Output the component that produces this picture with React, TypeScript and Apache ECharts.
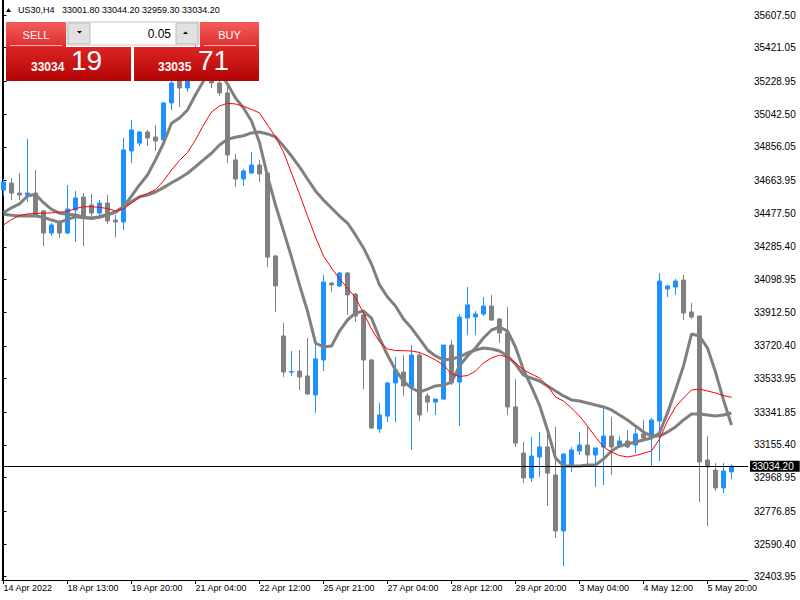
import React, { useEffect, useRef } from "react";
import * as echarts from "echarts";

// ---- data (US30, H4) ----
const OPEN = [34609, 34649, 34592, 34581, 34592, 34490, 34364, 34421, 34364, 34495, 34569, 34524, 34478, 34535, 34438, 34427, 34832, 34877, 34940, 34912, 34895, 35106, 35260, 35191, 35294, 35379, 35351, 35220, 35163, 34781, 34672, 34706, 34752, 34706, 34233, 33777, 33571, 33577, 33549, 33440, 33640, 34079, 34062, 34136, 34016, 33897, 33640, 33246, 33320, 33509, 33571, 33486, 33668, 33435, 33400, 33417, 33725, 33514, 33879, 33885, 33902, 33948, 33874, 33794, 33372, 33109, 32967, 33087, 33144, 32984, 32665, 33041, 33121, 33155, 33098, 33144, 33206, 33144, 33178, 33155, 33218, 33201, 33292, 34045, 34056, 34096, 33914, 33891, 33070, 33012, 32910, 33001.8];
const CLOSE = [34655, 34592, 34581, 34592, 34467, 34364, 34410, 34364, 34501, 34564, 34450, 34478, 34535, 34433, 34427, 34838, 34952, 34940, 34906, 34889, 35106, 35220, 35191, 35294, 35379, 35339, 35220, 35163, 34809, 34672, 34718, 34752, 34701, 34227, 34062, 33571, 33574, 33543, 33446, 33646, 34085, 34068, 34136, 34011, 33891, 33640, 33252, 33326, 33509, 33583, 33492, 33668, 33326, 33400, 33417, 33725, 33509, 33885, 33954, 33902, 33948, 33868, 33794, 33372, 33166, 32967, 33092, 33144, 32995, 32665, 33104, 33127, 33155, 33098, 33138, 33206, 33144, 33178, 33144, 33218, 33195, 33298, 34090, 34062, 34090, 33908, 33885, 33058, 33030, 32910, 33007, 33034.2];
const LOW = [34575, 34552, 34552, 34541, 34455, 34290, 34347, 34336, 34358, 34313, 34290, 34444, 34455, 34416, 34341, 34381, 34763, 34860, 34860, 34832, 34877, 35066, 35083, 35168, 35265, 35305, 35191, 35146, 34763, 34627, 34632, 34701, 34655, 34170, 33914, 33543, 33549, 33469, 33440, 33338, 33577, 34028, 34056, 33897, 33857, 33474, 33246, 33224, 33286, 33286, 33435, 33127, 33292, 33343, 33326, 33412, 33497, 33263, 33782, 33782, 33891, 33862, 33737, 33326, 33144, 32938, 32944, 32973, 32807, 32625, 32465, 33001, 33098, 33041, 32916, 32927, 32984, 33138, 33138, 33109, 33184, 33030, 33064, 33999, 34011, 33868, 33874, 32830, 32693, 32893, 32881, 32959.3];
const HIGH = [34672, 34678, 34706, 34900, 34723, 34495, 34421, 34438, 34638, 34604, 34592, 34587, 34552, 34581, 34467, 34906, 35009, 34946, 34952, 34980, 35111, 35265, 35294, 35339, 35436, 35465, 35379, 35260, 35220, 34815, 34729, 34826, 34781, 34712, 34239, 33851, 33691, 33697, 33765, 33754, 34125, 34085, 34142, 34142, 34022, 33908, 33646, 33395, 33514, 33657, 33668, 33725, 33685, 33452, 33417, 33725, 33754, 33902, 34056, 33919, 33999, 34011, 33879, 33942, 33531, 33172, 33201, 33229, 33229, 33258, 33104, 33144, 33229, 33258, 33138, 33366, 33315, 33206, 33241, 33252, 33298, 33309, 34136, 34068, 34102, 34125, 33965, 33891, 33206, 33052, 33052, 33044.2];

const MA_FAST = [34480, 34508, 34530, 34575, 34585, 34537, 34499, 34477, 34471, 34467, 34454, 34448, 34457, 34471, 34482, 34514, 34575, 34638, 34695, 34781, 34876, 34990, 35020, 35066, 35153, 35231, 35300, 35280, 35214, 35134, 35077, 35003, 34880, 34689, 34524, 34376, 34227, 34068, 33919, 33737, 33714, 33720, 33805, 33868, 33908, 33919, 33879, 33765, 33668, 33583, 33520, 33480, 33457, 33474, 33492, 33497, 33514, 33606, 33663, 33708, 33765, 33811, 33828, 33805, 33714, 33583, 33486, 33383, 33241, 33081, 33035, 33035, 33035, 33041, 33041, 33075, 33121, 33149, 33161, 33172, 33184, 33195, 33224, 33338, 33469, 33606, 33788, 33777, 33708, 33571, 33412, 33269];
const MA_SLOW = [34471, 34465, 34461, 34463, 34461, 34454, 34438, 34425, 34442, 34457, 34451, 34448, 34454, 34467, 34484, 34514, 34543, 34571, 34581, 34598, 34623, 34651, 34676, 34705, 34742, 34781, 34819, 34866, 34899, 34910, 34919, 34935, 34940, 34929, 34912, 34860, 34803, 34741, 34672, 34604, 34552, 34507, 34461, 34421, 34353, 34279, 34187, 34068, 33999, 33948, 33874, 33822, 33760, 33697, 33663, 33640, 33646, 33657, 33680, 33697, 33708, 33703, 33691, 33663, 33617, 33554, 33537, 33520, 33492, 33463, 33435, 33412, 33406, 33395, 33383, 33372, 33355, 33326, 33298, 33263, 33229, 33206, 33206, 33229, 33258, 33298, 33332, 33332, 33326, 33320, 33326, 33338];
const MA_RED = [34410, 34441, 34464, 34473, 34475, 34477, 34479, 34483, 34487, 34504, 34514, 34514, 34510, 34504, 34490, 34504, 34535, 34569, 34589, 34612, 34661, 34723, 34778, 34823, 34895, 34980, 35054, 35089, 35104, 35100, 35086, 35069, 35049, 34980, 34912, 34826, 34706, 34587, 34461, 34341, 34233, 34165, 34102, 34051, 33993, 33908, 33817, 33743, 33703, 33694, 33693, 33691, 33683, 33663, 33640, 33611, 33560, 33546, 33551, 33577, 33623, 33651, 33668, 33657, 33623, 33583, 33560, 33537, 33492, 33429, 33406, 33366, 33320, 33263, 33201, 33144, 33115, 33095, 33087, 33095, 33108, 33121, 33189, 33292, 33372, 33423, 33469, 33474, 33463, 33452, 33437, 33427];

const TIME_LABELS = ["14 Apr 2022", "18 Apr 13:00", "19 Apr 20:00", "21 Apr 04:00", "22 Apr 12:00", "25 Apr 21:00", "27 Apr 04:00", "28 Apr 12:00", "29 Apr 20:00", "3 May 04:00", "4 May 12:00", "5 May 20:00"];
const TIME_LABEL_BARS = [0, 8, 16, 24, 32, 40, 48, 56, 64, 72, 80, 88];
const PRICE_TICKS = [32403.95, 32590.4, 32776.85, 32968.95, 33155.4, 33341.85, 33533.95, 33720.4, 33912.5, 34098.95, 34285.4, 34477.5, 34663.95, 34856.05, 35042.5, 35228.95, 35421.05, 35607.5];
const Y_MIN = 32385.13;
const Y_MAX = 35693.05;
const X_MIN = -0.1875;
const X_MAX = 93.0625;
const LAST_PRICE = 33034.2;

const SYMBOL = "US30,H4";
const HEADER_QUOTES = "33001.80 33044.20 32959.30 33034.20";
const LOT = "0.05";
const BID_BIG = "33034";
const BID_PIPS = "19";
const ASK_BIG = "33035";
const ASK_PIPS = "71";

const FONT = "Liberation Sans, Arial, sans-serif";

export default function App() {
  const ref = useRef<HTMLDivElement>(null);

  useEffect(() => {
    if (!ref.current) return;
    const chart = echarts.init(ref.current, null, { renderer: "svg" });

    const candles = OPEN.map((o, i) => [i, o, CLOSE[i], LOW[i], HIGH[i]]);
    const toLine = (arr: number[]) => arr.map((v, i) => [i, v]);

    const btnGrad = () =>
      new echarts.graphic.LinearGradient(0, 0, 0, 1, [
        { offset: 0, color: "#F65C5C" },
        { offset: 1, color: "#DC2E2E" },
      ]);
    const boxGrad = () =>
      new echarts.graphic.LinearGradient(0, 0, 0, 1, [
        { offset: 0, color: "#DC2424" },
        { offset: 1, color: "#B40404" },
      ]);

    const option: any = {
      animation: false,
      backgroundColor: "#ffffff",
      grid: {
        left: 2,
        right: 52,
        top: 0,
        bottom: 20,
        containLabel: false,
        outerBoundsMode: "none",
      },
      xAxis: {
        type: "value",
        min: X_MIN,
        max: X_MAX,
        axisLine: { show: true, onZero: false, lineStyle: { color: "#000", width: 1 } },
        axisTick: {
          show: true,
          length: 4,
          customValues: TIME_LABEL_BARS,
          lineStyle: { color: "#000" },
        },
        axisLabel: {
          show: true,
          customValues: TIME_LABEL_BARS,
          formatter: (v: number) => TIME_LABELS[TIME_LABEL_BARS.indexOf(Math.round(v))] || "",
          align: "left",
          margin: 3,
          color: "#000",
          fontSize: 9,
          fontFamily: FONT,
        },
        splitLine: { show: false },
      },
      yAxis: [
        {
          type: "value",
          position: "right",
          min: Y_MIN,
          max: Y_MAX,
          axisLine: { show: true, lineStyle: { color: "#000", width: 1 } },
          axisTick: {
            show: true,
            length: 3,
            customValues: PRICE_TICKS,
            lineStyle: { color: "#000" },
          },
          axisLabel: {
            show: true,
            customValues: PRICE_TICKS,
            formatter: (v: number) => v.toFixed(2),
            margin: 6,
            color: "#000",
            fontSize: 10,
            fontFamily: FONT,
          },
          splitLine: { show: false },
        },
        {
          type: "value",
          position: "left",
          min: Y_MIN,
          max: Y_MAX,
          axisLine: { show: true, lineStyle: { color: "#000", width: 1 } },
          axisTick: { show: false },
          axisLabel: { show: false },
          splitLine: { show: false },
        },
      ],
      series: [
        {
          type: "candlestick",
          name: "US30",
          data: candles,
          barWidth: 4,
          itemStyle: {
            color: "#1E90FF",
            color0: "#808080",
            borderColor: "#1E90FF",
            borderColor0: "#808080",
            borderWidth: 1,
          },
          markLine: {
            silent: true,
            symbol: ["none", "none"],
            animation: false,
            data: [{ yAxis: LAST_PRICE }],
            lineStyle: { color: "#000", width: 1, type: "solid" },
            emphasis: { disabled: true },
            label: {
              show: true,
              position: "end",
              distance: 2,
              formatter: LAST_PRICE.toFixed(2),
              color: "#fff",
              backgroundColor: "#000",
              padding: [1, 6, 0, 2],
              lineHeight: 10,
              fontSize: 10,
              fontFamily: FONT,
            },
          },
        },
        {
          type: "line",
          name: "MA slow",
          data: toLine(MA_SLOW),
          showSymbol: false,
          lineStyle: { color: "#808080", width: 3 },
          itemStyle: { color: "#808080" },
        },
        {
          type: "line",
          name: "MA fast",
          data: toLine(MA_FAST),
          showSymbol: false,
          lineStyle: { color: "#808080", width: 3 },
          itemStyle: { color: "#808080" },
        },
        {
          type: "line",
          name: "MA red",
          data: toLine(MA_RED),
          showSymbol: false,
          lineStyle: { color: "#FF0000", width: 1 },
          itemStyle: { color: "#FF0000" },
        },
      ],
      graphic: [
        // header
        {
          type: "polygon",
          z: 100,
          shape: { points: [[6, 12], [11, 12], [8.5, 8]] },
          style: { fill: "#000" },
        },
        {
          type: "text",
          z: 100,
          x: 18,
          y: 10,
          style: { text: SYMBOL, fill: "#000", font: `9px ${FONT}`, textVerticalAlign: "middle" },
        },
        {
          type: "text",
          z: 100,
          x: 62,
          y: 10,
          style: { text: HEADER_QUOTES, fill: "#000", font: `9px ${FONT}`, textVerticalAlign: "middle" },
        },
        // SELL button
        { type: "rect", z: 100, shape: { x: 6, y: 22, width: 60, height: 25 }, style: { fill: btnGrad() } },
        { type: "line", z: 101, shape: { x1: 10, y1: 45.5, x2: 62, y2: 45.5 }, style: { stroke: "#F7A8A8", lineWidth: 1 } },
        {
          type: "text",
          z: 101,
          x: 36,
          y: 34.5,
          style: { text: "SELL", fill: "#fff", font: `11px ${FONT}`, textAlign: "center", textVerticalAlign: "middle" },
        },
        // lot spinner
        { type: "rect", z: 100, shape: { x: 67, y: 22, width: 132, height: 23 }, style: { fill: "#fff", stroke: "#C8C8C8", lineWidth: 1 } },
        { type: "rect", z: 101, shape: { x: 68, y: 23, width: 22, height: 21 }, style: { fill: "#E1E1E1", stroke: "#BDBDBD", lineWidth: 1 } },
        { type: "polygon", z: 102, shape: { points: [[77, 31], [82, 31], [79.5, 33.5]] }, style: { fill: "#000" } },
        { type: "rect", z: 101, shape: { x: 176, y: 23, width: 22, height: 21 }, style: { fill: "#E1E1E1", stroke: "#BDBDBD", lineWidth: 1 } },
        { type: "polygon", z: 102, shape: { points: [[183, 34], [188, 34], [185.5, 31.5]] }, style: { fill: "#000" } },
        {
          type: "text",
          z: 101,
          x: 171,
          y: 33.5,
          style: { text: LOT, fill: "#000", font: `12px ${FONT}`, textAlign: "right", textVerticalAlign: "middle" },
        },
        // BUY button
        { type: "rect", z: 100, shape: { x: 200, y: 22, width: 59, height: 25 }, style: { fill: btnGrad() } },
        { type: "line", z: 101, shape: { x1: 204, y1: 45.5, x2: 256, y2: 45.5 }, style: { stroke: "#F7A8A8", lineWidth: 1 } },
        {
          type: "text",
          z: 101,
          x: 229.5,
          y: 34.5,
          style: { text: "BUY", fill: "#fff", font: `11px ${FONT}`, textAlign: "center", textVerticalAlign: "middle" },
        },
        // bid / ask boxes
        { type: "rect", z: 100, shape: { x: 6, y: 47, width: 125, height: 34 }, style: { fill: boxGrad() } },
        { type: "rect", z: 100, shape: { x: 134, y: 47, width: 125, height: 34 }, style: { fill: boxGrad() } },
        {
          type: "text",
          z: 101,
          x: 31,
          y: 73,
          style: { text: BID_BIG, fill: "#fff", font: `bold 12px ${FONT}`, textVerticalAlign: "bottom" },
        },
        {
          type: "text",
          z: 101,
          x: 71,
          y: 74,
          style: { text: BID_PIPS, fill: "#fff", font: `28px ${FONT}`, textVerticalAlign: "bottom" },
        },
        {
          type: "text",
          z: 101,
          x: 158,
          y: 73,
          style: { text: ASK_BIG, fill: "#fff", font: `bold 12px ${FONT}`, textVerticalAlign: "bottom" },
        },
        {
          type: "text",
          z: 101,
          x: 198,
          y: 74,
          style: { text: ASK_PIPS, fill: "#fff", font: `28px ${FONT}`, textVerticalAlign: "bottom" },
        },
      ],
    };

    chart.setOption(option);
    return () => chart.dispose();
  }, []);

  return (
    <div
      ref={ref}
      style={{ position: "absolute", left: 0, top: 0, width: 800, height: 600 }}
    />
  );
}
